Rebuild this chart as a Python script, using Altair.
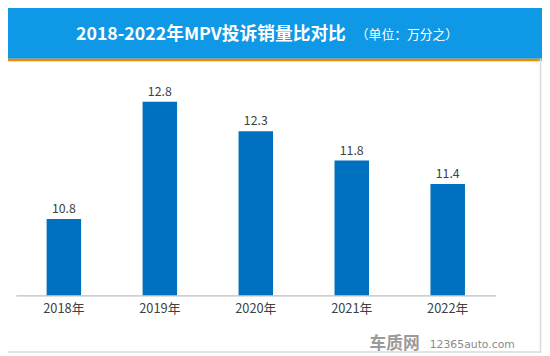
import altair as alt
import pandas as pd

years = ["2018年", "2019年", "2020年", "2021年", "2022年"]
values = [10.8, 12.8, 12.3, 11.8, 11.4]
title_main = "2018-2022年MPV投诉销量比对比"
title_unit = "（单位：万分之）"
wm_cn = "车质网"
wm_en = "12365auto.com"

FONT = "Noto Sans CJK SC"
W, H = 487, 227
YMIN, YMAX = 9.5, 13.315

df = pd.DataFrame({"year": years, "value": values})
one = pd.DataFrame({"a": [0]})

x = alt.X("year:N", sort=years,
          scale=alt.Scale(paddingInner=0, paddingOuter=0),
          axis=alt.Axis(title=None, labelAngle=0, labelFontSize=13, labelColor="#404040",
                        labelFont=FONT, domainColor="#BFBFBF", domainWidth=1.2,
                        ticks=False, labelPadding=7))
y = alt.Y("value:Q", scale=alt.Scale(domain=[YMIN, YMAX], nice=False, zero=False), axis=None)

bars = alt.Chart(df).mark_bar(size=35, color="#0070C0").encode(x=x, y=y, y2=alt.datum(YMIN))
labels = alt.Chart(df).mark_text(dy=-6, baseline="alphabetic", fontSize=12.5, color="#404040",
                                 font=FONT).encode(x=x, y=y, text="value:Q")

header = alt.Chart(one).mark_rect(color="#0E98E6").encode(
    x=alt.value(-16), x2=alt.value(534), y=alt.value(-70), y2=alt.value(-13))
orange = alt.Chart(one).mark_rect(color="#F08A00").encode(
    x=alt.value(-16), x2=alt.value(534), y=alt.value(-13), y2=alt.value(-10.5))
t1 = alt.Chart(one).mark_text(align="left", baseline="alphabetic", fontSize=18, fontWeight="bold",
                              color="white", font=FONT, text=title_main).encode(
    x=alt.value(61), y=alt.value(-32))
t2 = alt.Chart(one).mark_text(align="left", baseline="alphabetic", fontSize=13,
                              color="white", font=FONT, text=title_unit).encode(
    x=alt.value(345), y=alt.value(-33))
border_r = alt.Chart(one).mark_rule(color="#D9D9D9", strokeWidth=1.5).encode(
    x=alt.value(532.5), y=alt.value(-13), y2=alt.value(285))
border_b = alt.Chart(one).mark_rule(color="#D9D9D9", strokeWidth=1.5).encode(
    x=alt.value(-16), x2=alt.value(533), y=alt.value(284.5))
w1 = alt.Chart(one).mark_text(align="left", baseline="alphabetic", fontSize=17, fontWeight="bold",
                              color="#9A9A9A", font=FONT, text=wm_cn).encode(
    x=alt.value(359), y=alt.value(281))
w2 = alt.Chart(one).mark_text(align="left", baseline="alphabetic", fontSize=11,
                              color="#8A8A8A", font="DejaVu Sans", text=wm_en).encode(
    x=alt.value(420), y=alt.value(280))

chart = alt.layer(header, orange, t1, t2, border_r, border_b, bars, labels, w1, w2).properties(
    width=W, height=H,
    padding={"left": 8, "top": 62, "right": 47, "bottom": 59},
    autosize=alt.AutoSizeParams(type="none"),
    background="white",
).configure_view(stroke=None)

chart.save("out.html", embed_options={"renderer": "svg", "actions": False})
